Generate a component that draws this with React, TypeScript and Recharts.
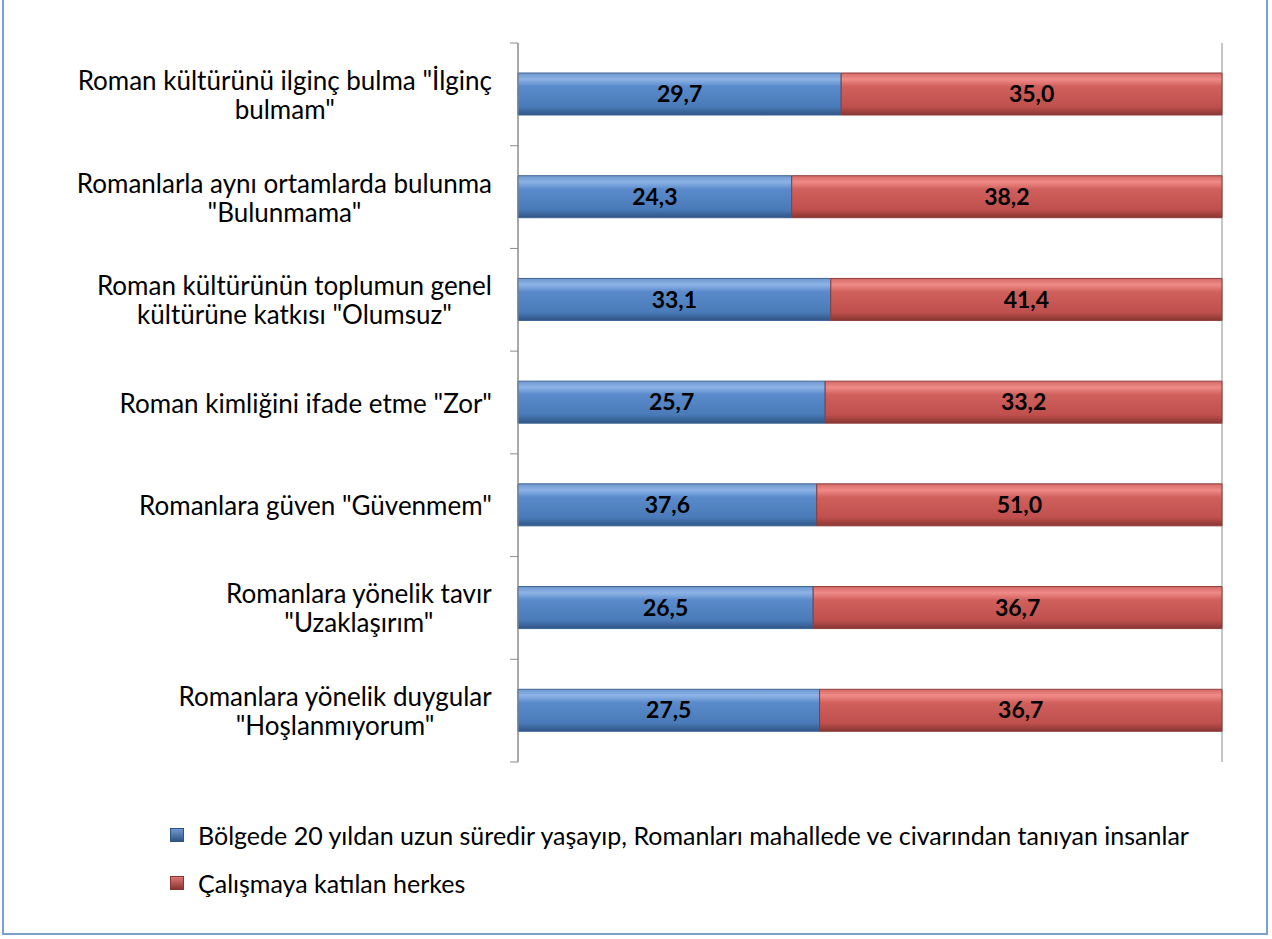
import React from 'react';
import { BarChart, Bar, XAxis, YAxis, CartesianGrid, LabelList } from 'recharts';

const categories = [
  ['Roman kültürünü ilginç bulma "İlginç', 'bulmam"'],
  ['Romanlarla aynı ortamlarda bulunma', '"Bulunmama"'],
  ['Roman kültürünün toplumun genel', 'kültürüne katkısı "Olumsuz"'],
  ['Roman kimliğini ifade etme "Zor"'],
  ['Romanlara güven "Güvenmem"'],
  ['Romanlara yönelik tavır', '"Uzaklaşırım"'],
  ['Romanlara yönelik duygular', '"Hoşlanmıyorum"'],
];
const longTimeResidents = [29.7, 24.3, 33.1, 25.7, 37.6, 26.5, 27.5];
const allParticipants = [35.0, 38.2, 41.4, 33.2, 51.0, 36.7, 36.7];
const seriesNames = [
  'Bölgede 20 yıldan uzun süredir yaşayıp, Romanları mahallede ve civarından tanıyan insanlar',
  'Çalışmaya katılan herkes',
];
const xTicks = [0, 0.5, 1];

const data = categories.map((c, i) => ({
  name: c.join(' '),
  lines: c,
  a: longTimeResidents[i],
  b: allParticipants[i],
}));

const W = 1272;
const H = 939;
const M = { top: 43, right: 50, bottom: 177, left: 0 };
const AXIS_W = 518;
const FONT = 'Lato, "Open Sans", sans-serif';
const band = (H - M.top - M.bottom) / categories.length;

let ctx: CanvasRenderingContext2D | null = null;
function measure(s: string, font: string) {
  if (!ctx) ctx = document.createElement('canvas').getContext('2d');
  if (!ctx) return s.length * 10;
  ctx.font = font;
  return ctx.measureText(s).width;
}

const CatTick = (props: any) => {
  const { y, payload, index } = props;
  const d = data.find((r) => r.name === payload.value);
  const lines = d ? d.lines : [payload.value];
  const fs = 26;
  const lh = 29;
  const widths = lines.map((l: string) => measure(l, `${fs}px Lato`));
  const maxW = Math.max(...widths);
  const right = AXIS_W - 26;
  const cx = right - maxW / 2;
  const y0 = y - ((lines.length - 1) * lh) / 2;
  return (
    <g>
      {index === 0 && <line x1={AXIS_W - 8} x2={AXIS_W} y1={y - band / 2} y2={y - band / 2} stroke="#8c8c8c" />}
      <line x1={AXIS_W - 8} x2={AXIS_W} y1={y + band / 2} y2={y + band / 2} stroke="#8c8c8c" />
      {lines.map((l: string, i: number) => (
        <text
          key={i}
          x={cx}
          y={y0 + i * lh}
          textAnchor="middle"
          dominantBaseline="central"
          fontFamily={FONT}
          fontSize={fs}
          fill="#000"
        >
          {l}
        </text>
      ))}
    </g>
  );
};

const fmt = (v: any) => Number(v).toFixed(1).replace('.', ',');

export default function App() {
  return (
    <div style={{ position: 'relative', width: W, height: H, overflow: 'hidden', background: '#fff' }}>
      <style>{`body{margin:0}`}</style>
      <div
        style={{
          position: 'absolute',
          left: 2,
          top: -10,
          width: 1268 - 2,
          height: 937 + 10 - 2,
          border: '2px solid #7BA0CD',
          boxSizing: 'border-box',
        }}
      />
      <BarChart
        width={W}
        height={H}
        data={data}
        layout="vertical"
        stackOffset="expand"
        barSize={42}
        margin={M}
        style={{ position: 'absolute', left: 0, top: 0 }}
      >
        <defs>
          <linearGradient id="gBlue" x1="0" y1="0" x2="0" y2="1">
            <stop offset="0%" stopColor="#6F98CF" />
            <stop offset="15%" stopColor="#8DB3E6" />
            <stop offset="32%" stopColor="#5A8ACB" />
            <stop offset="80%" stopColor="#4A7BB8" />
            <stop offset="100%" stopColor="#2F5586" />
          </linearGradient>
          <linearGradient id="gRed" x1="0" y1="0" x2="0" y2="1">
            <stop offset="0%" stopColor="#D46A67" />
            <stop offset="15%" stopColor="#F08B88" />
            <stop offset="32%" stopColor="#D0605C" />
            <stop offset="80%" stopColor="#C0504D" />
            <stop offset="100%" stopColor="#883633" />
          </linearGradient>
        </defs>
        <CartesianGrid horizontal={false} stroke="#8c8c8c" />
        <XAxis
          type="number"
          domain={[0, 1]}
          ticks={xTicks}
          tick={false}
          tickLine={false}
          axisLine={false}
          height={0}
        />
        <YAxis
          type="category"
          dataKey="name"
          width={AXIS_W}
          tick={<CatTick />}
          tickLine={false}
          axisLine={{ stroke: '#8c8c8c' }}
          interval={0}
        />
        <Bar dataKey="a" stackId="s" fill="url(#gBlue)" stroke="#3A6394" strokeWidth={1} isAnimationActive={false}>
          <LabelList
            dataKey="a"
            position="center"
            formatter={fmt}
            style={{ fontFamily: FONT, fontSize: 23, fontWeight: 700, fill: '#000' }}
          />
        </Bar>
        <Bar dataKey="b" stackId="s" fill="url(#gRed)" stroke="#8E3B39" strokeWidth={1} isAnimationActive={false}>
          <LabelList
            dataKey="b"
            position="center"
            formatter={fmt}
            style={{ fontFamily: FONT, fontSize: 23, fontWeight: 700, fill: '#000' }}
          />
        </Bar>
      </BarChart>
      <div style={{ position: 'absolute', left: 170, top: 811, fontFamily: FONT, fontSize: 25, color: '#000' }}>
        {seriesNames.map((n, i) => (
          <div key={i} style={{ display: 'flex', alignItems: 'center', height: 48 }}>
            <span
              style={{
                display: 'inline-block',
                width: 12,
                height: 12,
                marginRight: 14,
                background: i === 0 ? 'linear-gradient(#6F98CF,#2F5586)' : 'linear-gradient(#E07673,#883633)',
                border: `1px solid ${i === 0 ? '#2F5586' : '#883633'}`,
              }}
            />
            {n}
          </div>
        ))}
      </div>
    </div>
  );
}
